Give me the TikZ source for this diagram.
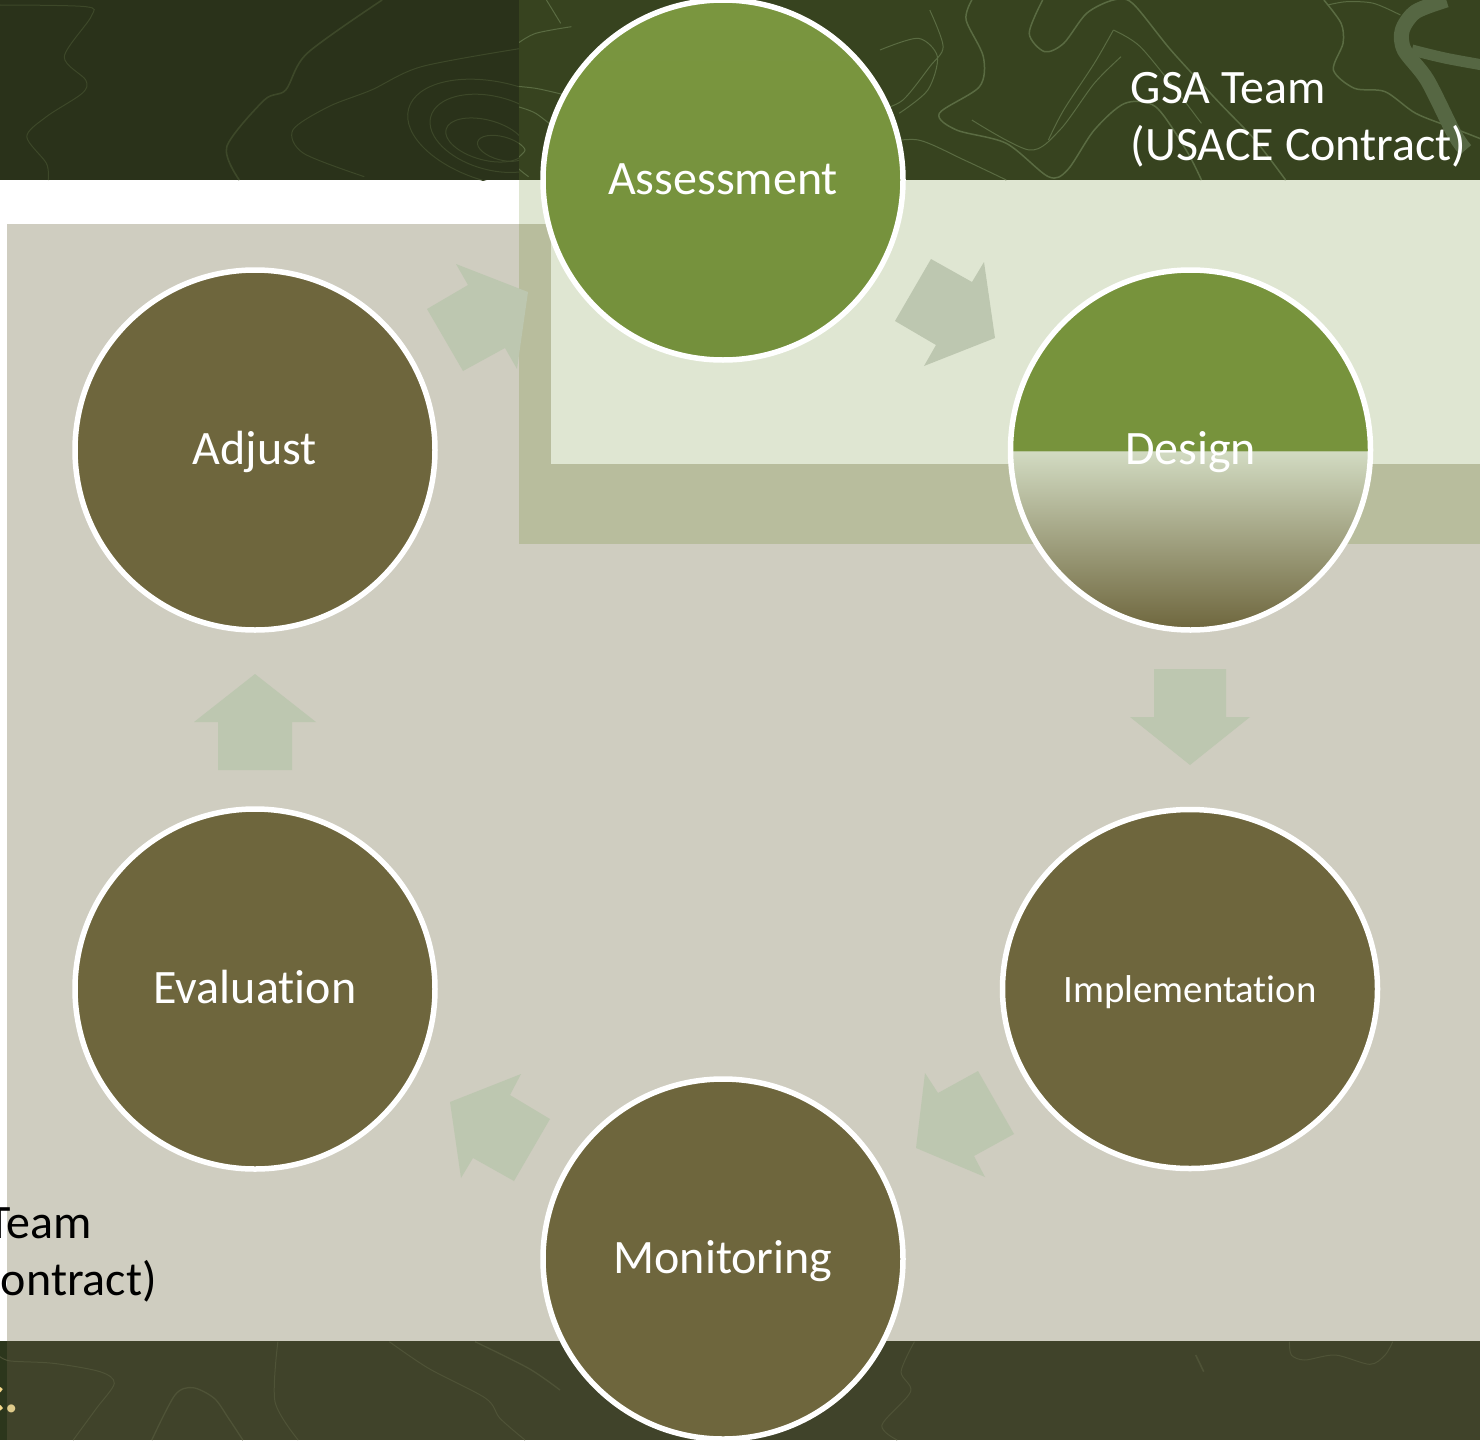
\documentclass[tikz,border=0pt]{standalone}
\usepackage{fontspec}
\usetikzlibrary{shapes.geometric}
\setmainfont[Ligatures=NoCommon]{Carlito}
\definecolor{bandL}{HTML}{2A321A}
\definecolor{bandR}{HTML}{37431F}
\definecolor{bandB}{HTML}{40432A}
\definecolor{sliver}{HTML}{2C361C}
\definecolor{beige}{HTML}{CFCDC0}
\definecolor{paleG}{HTML}{DFE6D2}
\definecolor{midG}{HTML}{B8BD9D}
\definecolor{arrowG}{HTML}{BDC7B0}
\definecolor{oliveC}{HTML}{6E663D}
\definecolor{greenC}{HTML}{77933C}
\definecolor{greenT}{HTML}{7A963F}
\definecolor{greenB}{HTML}{74903C}
\definecolor{lineL}{HTML}{3D4829}
\definecolor{lineR}{HTML}{5A6B42}
\definecolor{lineB}{HTML}{4F5337}
\definecolor{logoC}{HTML}{566743}
\definecolor{fadeTop}{HTML}{D2DBC2}
\pgfdeclareverticalshading{designfill}{100bp}{color(0bp)=(oliveC); color(25bp)=(oliveC); color(49.8bp)=(fadeTop); color(50bp)=(greenC); color(100bp)=(greenC)}
\tikzset{
  x=1pt,y=-1pt,
  stepcirc/.style={circle,draw=white,line width=5.5pt,minimum size=360pt,inner sep=0pt,text=white,
    font=\fontsize{48}{48}\selectfont,text height=33pt,text depth=4pt},
  olivecirc/.style={stepcirc,fill=oliveC},
  blockarrow/.style={fill=arrowG,draw=none},
  teamtext/.style={font=\fontsize{48}{48}\selectfont,inner sep=0pt},
  contour/.style={line width=1pt},
  zoomedA/.style={x=0.35714pt,y=-0.33333pt},
  zoomedB/.style={x=0.38265pt,y=-0.33333pt}
}
\begin{document}
\begin{tikzpicture}
\path[use as bounding box,clip] (0,0) rectangle (1480,1440);
\fill[white] (0,0) rectangle (1480,1440);
% bands
\fill[bandL] (0,0) rectangle (519,180);
\fill[bandR] (519,0) rectangle (1480,180);
\fill[beige] (7,224) rectangle (1480,1341);
\fill[bandB] (7,1341) rectangle (1480,1440);
\fill[sliver] (0,1341) rectangle (7,1440);
% green overlays
\fill[midG] (519,224) rectangle (1480,544);
\fill[paleG] (519,180) rectangle (551,224);
\fill[paleG] (551,180) rectangle (1480,464);
% contours, top left
\begin{scope}
\clip (0,0) rectangle (519,180);
\begin{scope}[zoomedA]
\draw[lineL,contour] plot[smooth] coordinates {(0,15) (240,20) (255,50) (180,170) (240,240) (230,280) (130,350) (75,410) (130,490) (135,540)};
\draw[lineL,line width=1.6pt] plot[smooth] coordinates {(1070,0) (860,160) (800,270) (740,300) (635,440) (670,540)};
\draw[lineL,contour] plot[smooth] coordinates {(1460,145) (1180,200) (1040,270) (920,320) (820,390) (850,460) (1020,530)};
\draw[lineL,contour,rotate around={-15:(1400,400)}] (1400,400) ellipse (265 and 150);
\draw[lineL,contour,rotate around={-15:(1380,400)}] (1380,400) ellipse (180 and 110);
\draw[lineL,contour,rotate around={-15:(1360,420)}] (1360,420) ellipse (115 and 60);
\draw[lineL,contour,rotate around={-15:(1405,445)}] (1405,445) ellipse (70 and 35);
\end{scope}
\end{scope}
% contours, top right
\begin{scope}
\clip (519,0) rectangle (1480,180);
\begin{scope}[zoomedA]
\draw[lineR,contour] plot[smooth] coordinates {(1530,0) (1570,70)};
\draw[lineR,contour] plot[smooth] coordinates {(1450,130) (1500,100) (1600,80)};
\draw[lineR,contour] plot[smooth] coordinates {(1400,255) (1500,265) (1600,290)};
\draw[lineR,contour] plot[smooth] coordinates {(1450,320) (1500,340) (1560,390)};
\draw[lineR,contour] plot[smooth] coordinates {(1440,420) (1470,450) (1440,490) (1480,530)};
\end{scope}
\begin{scope}[shift={(880,0)},zoomedB]
\draw[lineR,line width=1.5pt] plot[smooth] coordinates {(425,0) (390,100) (430,155) (480,130) (540,40) (610,0) (660,10) (760,150) (880,300) (980,420) (1060,540)};
\draw[lineR,line width=1.5pt] plot[smooth] coordinates {(240,0) (225,60) (270,170) (260,260) (155,340) (200,390) (330,430) (440,530) (490,510) (560,390) (640,310) (720,320) (800,450) (840,540)};
\draw[lineR,contour] plot[smooth] coordinates {(130,30) (165,140) (130,200) (60,300) (0,330)};
\draw[lineR,contour] plot[smooth] coordinates {(0,150) (100,115) (150,170) (125,270) (50,340)};
\draw[lineR,contour] plot[smooth] coordinates {(610,90) (680,140) (780,280) (840,370)};
\draw[lineR,contour] plot[smooth] coordinates {(610,90) (560,190) (480,330) (440,420)};
\draw[lineR,contour] plot[smooth] coordinates {(630,170) (560,250) (470,390) (390,450) (240,360)};
\draw[lineR,contour] plot[smooth] coordinates {(0,430) (100,420) (220,480) (330,540)};
\draw[lineR,line width=1.5pt] plot[smooth] coordinates {(1160,0) (1205,70) (1210,130) (1185,210) (1240,265) (1320,275) (1400,340) (1500,385) (1600,430)};
\draw[lineR,contour] plot[smooth] coordinates {(1170,15) (1220,5) (1290,10) (1360,45)};
\draw[logoC,line width=15pt] plot[smooth] coordinates {(1480,0) (1400,35) (1365,90) (1370,150) (1430,240) (1500,400) (1530,450)};
\draw[logoC,line width=11pt] plot[smooth] coordinates {(1390,150) (1480,175) (1600,200)};
\end{scope}
\end{scope}
% contours, bottom
\begin{scope}
\clip (0,1341) rectangle (1480,1440);
\begin{scope}[shift={(0,1335)},zoomedA]
\draw[lineB,contour] plot[smooth] coordinates {(0,65) (30,78) (150,85) (280,110) (320,145) (270,220) (205,315)};
\draw[lineB,line width=1.3pt] plot[smooth] coordinates {(425,315) (490,180) (540,158) (600,190) (640,250) (680,315)};
\draw[lineB,contour] plot[smooth] coordinates {(778,20) (770,200) (835,315)};
\draw[lineB,contour] plot[smooth] coordinates {(1090,20) (1200,100) (1360,190) (1400,250) (1470,315)};
\draw[lineB,line width=1.3pt] plot[smooth] coordinates {(1330,20) (1480,100) (1568,165)};
\end{scope}
\begin{scope}[shift={(880,1335)},zoomedB]
\draw[lineB,contour] plot[smooth] coordinates {(90,20) (55,110) (80,170) (5,270) (45,315)};
\draw[lineB,line width=1.6pt] (825,60) -- (846,110);
\draw[lineB,contour] plot[smooth] coordinates {(1070,20) (1075,60) (1110,75) (1190,60) (1280,88) (1320,60) (1340,20)};
\end{scope}
\end{scope}
% block arrows
\fill[blockarrow] (931,259) -- (972,282) -- (984,262) -- (995,338) -- (924,366) -- (936,345) -- (895,321) -- cycle;
\fill[blockarrow] (1154,669) -- (1226,669) -- (1226,717) -- (1250,717) -- (1190,765) -- (1130,717) -- (1154,717) -- cycle;
\fill[blockarrow] (978,1071) -- (938,1093) -- (925,1073) -- (916,1148) -- (985,1177) -- (974,1156) -- (1014,1134) -- cycle;
\fill[blockarrow] (550,1119) -- (510,1095) -- (521,1074) -- (450,1102) -- (461,1178) -- (473,1158) -- (514,1181) -- cycle;
\fill[blockarrow] (218,770) -- (292,770) -- (292,722) -- (316,722) -- (255,674) -- (194,722) -- (218,722) -- cycle;
\fill[blockarrow] (427,309) -- (468,285) -- (456,264) -- (528,292) -- (517,369) -- (505,348) -- (463,371) -- cycle;
% cycle circles
\node[stepcirc,top color=greenT,bottom color=greenB] (assessment) at (723,180) {Assessment};
\node[stepcirc,shading=designfill] (design) at (1190.5,450) {Design};
\node[olivecirc] (adjust) at (255,450) {Adjust};
\node[olivecirc,ellipse,minimum width=375pt,minimum height=359pt,font=\fontsize{38.8}{38.8}\selectfont,text height=26pt,text depth=0pt] (implementation) at (1190,989) {Implementation};
\node[olivecirc] (evaluation) at (255,989) {Evaluation};
\node[olivecirc] (monitoring) at (723,1259) {Monitoring};
% free text
\node[teamtext,text=white,anchor=base west] (gsa) at (1130.5,103) {GSA Team};
\node[teamtext,text=white,anchor=base west] (usace) at (1130.5,160) {(USACE Contract)};
\node[teamtext,text=black,anchor=base east] (team) at (92,1238.5) {Team};
\node[teamtext,text=black,anchor=base east] (contract) at (157,1295.5) {ontract)};
\node[inner sep=0pt,anchor=base east,font=\fontsize{54}{54}\selectfont\bfseries] (inc) at (19,1412) {\textcolor[HTML]{F6D98C}{c}\textcolor[HTML]{DFCB8B}{.}};
\end{tikzpicture}
\end{document}
